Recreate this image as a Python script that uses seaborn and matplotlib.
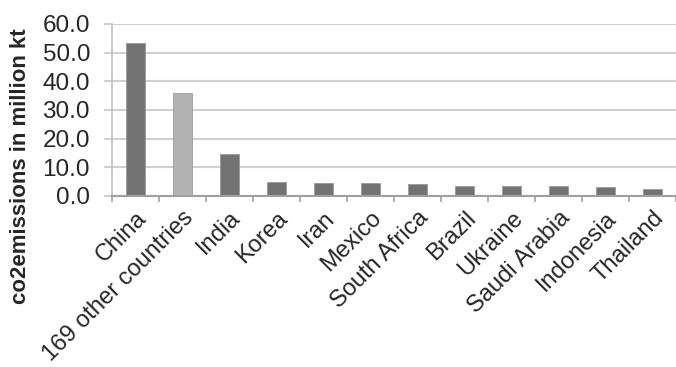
import matplotlib
matplotlib.use("Agg")
import matplotlib.pyplot as plt
import seaborn as sns
import pandas as pd

countries = ["China", "169 other countries", "India", "Korea", "Iran", "Mexico",
             "South Africa", "Brazil", "Ukraine", "Saudi Arabia", "Indonesia", "Thailand"]
emissions = [53.2, 35.9, 14.6, 4.8, 4.5, 4.4, 4.2, 3.6, 3.6, 3.6, 3.3, 2.5]
bar_colors = ["#737373", "#b3b3b3", "#737373", "#737373", "#737373", "#737373",
              "#737373", "#737373", "#737373", "#737373", "#737373", "#737373"]
y_ticks = [0, 10, 20, 30, 40, 50, 60]

sns.set_theme(style="white")
plt.rcParams["font.family"] = ["Liberation Sans", "DejaVu Sans"]

df = pd.DataFrame({"country": countries, "co2": emissions})

fig = plt.figure(figsize=(6.76, 3.67), dpi=100)
ax = fig.add_axes([112 / 676, 171 / 367, 1 - 112 / 676, 172 / 367])

sns.barplot(data=df, x="country", y="co2", hue="country", palette=bar_colors,
            legend=False, width=0.41, edgecolor="#9a9a9a", linewidth=0.6, ax=ax,
            zorder=3)

ax.set_ylim(0, 60)
ax.set_xlim(-0.5, len(countries) - 0.5)
ax.set_yticks(y_ticks)
ax.set_yticklabels([f"{v:.1f}" for v in y_ticks], fontsize=17.5)
ax.grid(axis="y", color="#d0d0d0", linewidth=1.5, zorder=0)
ax.grid(axis="x", visible=False)

# category boundary ticks below the axis
ax.set_xticks([i - 0.5 for i in range(len(countries) + 1)], minor=False)
ax.set_xticklabels([])
ax.set_xticks(range(len(countries)), minor=True)
ax.set_xticklabels(countries, minor=True, rotation=45, ha="right",
                   rotation_mode="anchor", fontsize=17)
ax.tick_params(axis="x", which="major", length=4.3, width=1.2, color="#a0a0a0",
               direction="out", bottom=True)
ax.tick_params(axis="x", which="minor", length=0, pad=8, bottom=True)
ax.tick_params(axis="y", length=5.8, width=1.5, color="#d0d0d0", left=True, pad=10)

for side in ["top", "right"]:
    ax.spines[side].set_visible(False)
ax.spines["left"].set_color("#c0c0c0")
ax.spines["left"].set_linewidth(1.2)
ax.spines["bottom"].set_color("#a0a0a0")
ax.spines["bottom"].set_linewidth(1.5)
ax.spines["bottom"].set_zorder(4)

ax.set_xlabel("")
ax.set_ylabel("")
fig.text(21 / 676, 1 - 166 / 367, "co2emissions in million kt", rotation=90,
         ha="center", va="center", fontsize=16, fontweight="bold")

fig.savefig("out.png", dpi=100)
